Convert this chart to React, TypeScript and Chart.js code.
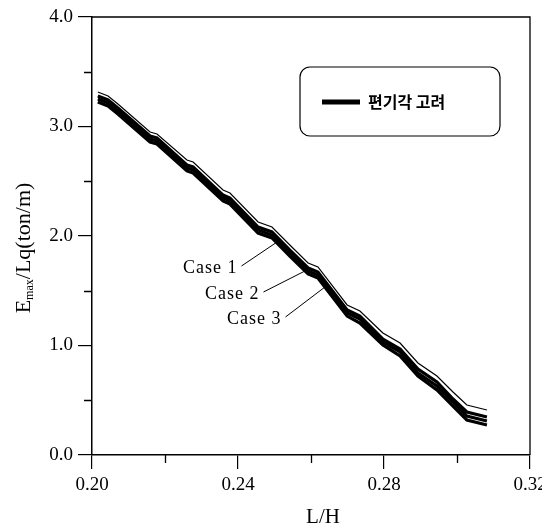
import React, { useEffect, useRef } from 'react';
import { Chart, registerables } from 'chart.js';

Chart.register(...registerables);

// ---- data ----
const xValues = [
  0.2016, 0.2044, 0.2071, 0.2159, 0.2178, 0.2260, 0.2277, 0.2359, 0.2378, 0.2455, 0.2493, 0.2542,
  0.2592, 0.2619, 0.2699, 0.2734, 0.2797, 0.2844, 0.2893, 0.2945, 0.2989, 0.3027, 0.3082,
];
const topLine = [
  3.315, 3.279, 3.205, 2.950, 2.932, 2.694, 2.676, 2.420, 2.393, 2.128, 2.082, 1.918,
  1.753, 1.717, 1.370, 1.315, 1.114, 1.023, 0.840, 0.721, 0.575, 0.457, 0.411,
];
const case1 = [
  3.279, 3.242, 3.169, 2.913, 2.895, 2.648, 2.630, 2.374, 2.347, 2.082, 2.037, 1.872,
  1.708, 1.671, 1.324, 1.269, 1.059, 0.968, 0.785, 0.667, 0.511, 0.393, 0.347,
];
const case2 = [
  3.251, 3.215, 3.142, 2.886, 2.868, 2.621, 2.603, 2.347, 2.320, 2.055, 2.009, 1.845,
  1.680, 1.644, 1.297, 1.242, 1.032, 0.941, 0.749, 0.630, 0.484, 0.356, 0.311,
];
const case3 = [
  3.224, 3.187, 3.114, 2.858, 2.840, 2.594, 2.575, 2.320, 2.292, 2.027, 1.982, 1.817,
  1.653, 1.616, 1.269, 1.205, 1.005, 0.904, 0.721, 0.594, 0.447, 0.320, 0.274,
];
const xMinorTicks = [0.22, 0.26, 0.3];
const yMinorTicks = [0.5, 1.5, 2.5, 3.5];
const legendLabel = '편기각 고려';
const caseLabels = ['Case 1', 'Case 2', 'Case 3'];
const caseLeaderX = [0.2515, 0.2589, 0.2638];
const xTitle = 'L/H';
const yTitleMain = 'E';
const yTitleSub = 'max';
const yTitleRest = '/Lq(ton/m)';

const SERIF = '"Liberation Serif", "DejaVu Serif", serif';

function interp(xs: number[], ys: number[], xv: number) {
  for (let i = 0; i < xs.length - 1; i++) {
    if (xv >= xs[i] && xv <= xs[i + 1]) {
      const t = (xv - xs[i]) / (xs[i + 1] - xs[i]);
      return ys[i] + t * (ys[i + 1] - ys[i]);
    }
  }
  return ys[ys.length - 1];
}

const decorPlugin = {
  id: 'decor',
  afterDraw(chart: any) {
    const { ctx, chartArea: a } = chart;
    const xs = chart.scales.x;
    const ys = chart.scales.y;
    ctx.save();
    ctx.strokeStyle = '#000';
    ctx.fillStyle = '#000';
    ctx.lineWidth = 1.3;
    // frame
    ctx.beginPath();
    ctx.moveTo(a.left, a.top);
    ctx.lineTo(a.right, a.top);
    ctx.lineTo(a.right, a.bottom);
    ctx.stroke();
    // minor ticks
    ctx.beginPath();
    xMinorTicks.forEach((v) => {
      const px = Math.round(xs.getPixelForValue(v)) + 0.5;
      ctx.moveTo(px, a.bottom);
      ctx.lineTo(px, a.bottom + 8);
    });
    yMinorTicks.forEach((v) => {
      const py = Math.round(ys.getPixelForValue(v)) + 0.5;
      ctx.moveTo(a.left, py);
      ctx.lineTo(a.left - 8, py);
    });
    ctx.stroke();

    // legend box
    const bx = 292, by = 59, bw = 200, bh = 69, r = 10;
    ctx.lineWidth = 1.2;
    ctx.beginPath();
    ctx.roundRect(bx, by, bw, bh, r);
    ctx.stroke();
    ctx.lineWidth = 5;
    ctx.beginPath();
    ctx.moveTo(bx + 22, by + 35);
    ctx.lineTo(bx + 60, by + 35);
    ctx.stroke();
    ctx.font = 'bold 16px "Noto Sans CJK KR"';
    ctx.textBaseline = 'middle';
    ctx.textAlign = 'left';
    ctx.fillText(legendLabel, bx + 68, by + 35);

    // case labels with leaders
    const series = [case1, case2, case3];
    const labelPos = [
      [175, 260],
      [197, 286],
      [219, 311],
    ];
    ctx.font = `18px ${SERIF}`;
    (ctx as any).letterSpacing = '1px';
    ctx.lineWidth = 1;
    caseLabels.forEach((lab, i) => {
      const [lx, ly] = labelPos[i];
      ctx.fillText(lab, lx, ly);
      const w = ctx.measureText(lab).width;
      const tx = caseLeaderX[i];
      const tpx = xs.getPixelForValue(tx);
      const tpy = ys.getPixelForValue(interp(xValues, series[i], tx));
      ctx.beginPath();
      ctx.moveTo(lx + w + 4, ly - 2);
      ctx.lineTo(tpx, tpy);
      ctx.stroke();
    });
    (ctx as any).letterSpacing = '0px';

    // x title
    ctx.font = `21px ${SERIF}`;
    ctx.textAlign = 'center';
    ctx.fillText(xTitle, (a.left + a.right) / 2 + 12, 509);

    // y title (rotated, with subscript)
    ctx.translate(14, 240);
    ctx.rotate(-Math.PI / 2);
    ctx.textAlign = 'left';
    ctx.textBaseline = 'alphabetic';
    ctx.font = `22px ${SERIF}`;
    const wE = ctx.measureText(yTitleMain).width;
    const wR = ctx.measureText(yTitleRest).width;
    ctx.font = `12px ${SERIF}`;
    const wS = ctx.measureText(yTitleSub).width;
    const total = wE + wS + wR;
    let sx = -total / 2;
    ctx.font = `22px ${SERIF}`;
    ctx.fillText(yTitleMain, sx, 8);
    sx += wE;
    ctx.font = `12px ${SERIF}`;
    ctx.fillText(yTitleSub, sx, 11);
    sx += wS;
    ctx.font = `22px ${SERIF}`;
    ctx.fillText(yTitleRest, sx, 8);
    ctx.restore();
  },
};

export default function App() {
  const ref = useRef<HTMLCanvasElement | null>(null);
  useEffect(() => {
    if (!ref.current) return;
    const mk = (ys: number[]) => xValues.map((x, i) => ({ x, y: ys[i] }));
    const chart = new Chart(ref.current, {
      type: 'line',
      data: {
        datasets: [
          { label: 'top', data: mk(topLine), borderColor: '#000', borderWidth: 1.2, pointRadius: 0, tension: 0 },
          { label: caseLabels[0], data: mk(case1), borderColor: '#000', borderWidth: 3.2, pointRadius: 0, tension: 0 },
          { label: caseLabels[1], data: mk(case2), borderColor: '#000', borderWidth: 3.2, pointRadius: 0, tension: 0 },
          { label: caseLabels[2], data: mk(case3), borderColor: '#000', borderWidth: 3.2, pointRadius: 0, tension: 0 },
        ],
      },
      options: {
        responsive: false,
        animation: false,
        layout: { padding: { top: 9, right: 12, left: 0, bottom: 0 } },
        plugins: { legend: { display: false }, tooltip: { enabled: false } },
        scales: {
          x: {
            type: 'linear',
            min: 0.2,
            max: 0.32,
            afterFit: (s: any) => {
              s.height = 73;
              s.paddingLeft = 0;
              s.paddingRight = 0;
            },
            ticks: {
              stepSize: 0.04,
              padding: 5,
              color: '#000',
              font: { family: SERIF, size: 19 },
              maxRotation: 0,
              callback: (v: any) => Number(v).toFixed(2),
            },
            grid: { drawOnChartArea: false, tickLength: 14, color: '#000', lineWidth: 1.2 },
            border: { color: '#000', width: 1.5 },
          },
          y: {
            type: 'linear',
            min: 0,
            max: 4,
            afterFit: (s: any) => {
              s.width = 84;
              s.paddingTop = 0;
              s.paddingBottom = 0;
            },
            ticks: {
              stepSize: 1,
              padding: 5,
              color: '#000',
              font: { family: SERIF, size: 19 },
              callback: (v: any) => Number(v).toFixed(1),
            },
            grid: { drawOnChartArea: false, tickLength: 14, color: '#000', lineWidth: 1.2 },
            border: { color: '#000', width: 1.5 },
          },
        },
      },
      plugins: [decorPlugin],
    });
    return () => chart.destroy();
  }, []);
  return (
    <div style={{ position: 'fixed', left: 8, top: 8, width: 534, height: 520 }}>
      <canvas ref={ref} width={534} height={520} style={{ width: 534, height: 520, display: 'block' }} />
    </div>
  );
}
